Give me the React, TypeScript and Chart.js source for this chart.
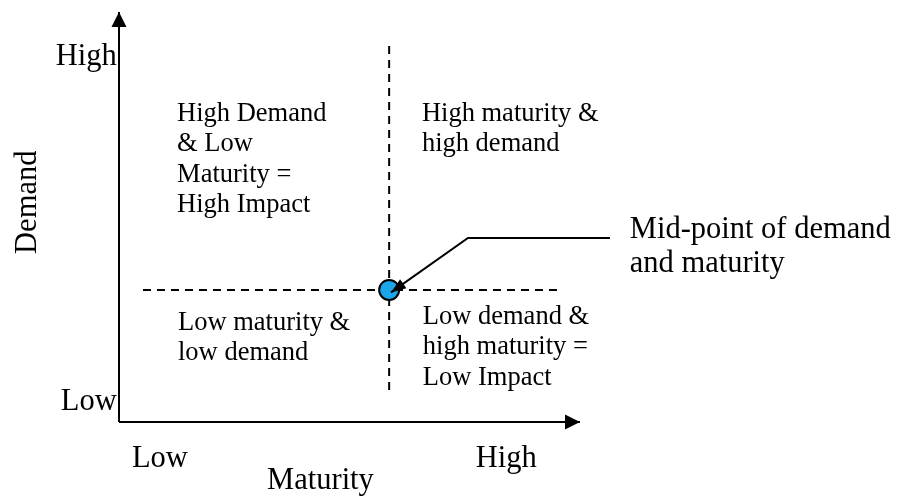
import React, { useEffect, useRef } from "react";
import { Chart, registerables } from "chart.js";

Chart.register(...registerables);

// ---- Data (values on a 0–10 maturity / demand scale) ----
const axisMaturityEnd = 10;
const axisDemandEnd = 10;

const midpointMaturity = 5.86;
const midpointDemand = 3.22;

const dividerMaturityRange = [0.52, 9.57]; // horizontal dashed line extent
const dividerDemandRange = [0.78, 9.27]; // vertical dashed line extent

const calloutPathX = [10.65, 7.57, 5.9];
const calloutPathY = [4.49, 4.49, 3.16];
const calloutText = ["Mid-point of demand", "and maturity"];
const calloutAnchor = [11.08, 4.5];

const quadrantLabels = [
  ["High Demand", "& Low", "Maturity =", "High Impact"],
  ["High maturity &", "high demand"],
  ["Low maturity &", "low demand"],
  ["Low demand &", "high maturity =", "Low Impact"],
];
const quadrantLabelX = [1.26, 6.57, 1.28, 6.59];
const quadrantLabelY = [7.35, 7.35, 2.25, 2.4];

const tickLabels = ["Low", "High"];
const xTickX = [0.28, 7.74];
const xTickY = -1.1;
const yTickX = -0.05;
const yTickY = [0.29, 8.71];

const xAxisTitle = "Maturity";
const yAxisTitle = "Demand";
const xTitleAnchor = [4.37, -1.63];
const yTitleAnchor = [-1.8, 5.36];

// ---- Styles ----
const FONT = "'Liberation Serif', 'Times New Roman', Times, serif";
const INK = "#000000";
const DOT_FILL = "#1aa6e8";

export default function App() {
  const ref = useRef<HTMLCanvasElement>(null);

  useEffect(() => {
    const canvas = ref.current;
    if (!canvas) return;

    const overlay = {
      id: "quadrantOverlay",
      afterDatasetsDraw(chart: any) {
        const { ctx } = chart;
        const xs = chart.scales.x;
        const ys = chart.scales.y;
        const px = (v: number) => xs.getPixelForValue(v);
        const py = (v: number) => ys.getPixelForValue(v);

        // arrowheads
        chart.data.datasets.forEach((ds: any, i: number) => {
          if (!ds.arrowHead) return;
          const meta = chart.getDatasetMeta(i);
          const pts = meta.data;
          const a = pts[pts.length - 2];
          const b = pts[pts.length - 1];
          const ang = Math.atan2(b.y - a.y, b.x - a.x);
          const { len, half } = ds.arrowHead;
          const bx = b.x - Math.cos(ang) * len;
          const by = b.y - Math.sin(ang) * len;
          const nx = -Math.sin(ang) * half;
          const ny = Math.cos(ang) * half;
          ctx.save();
          ctx.fillStyle = INK;
          ctx.beginPath();
          ctx.moveTo(b.x, b.y);
          ctx.lineTo(bx + nx, by + ny);
          ctx.lineTo(bx - nx, by - ny);
          ctx.closePath();
          ctx.fill();
          ctx.restore();
        });

        ctx.save();
        ctx.fillStyle = INK;
        ctx.textBaseline = "alphabetic";

        // quadrant texts
        ctx.font = `26.5px ${FONT}`;
        ctx.textAlign = "left";
        quadrantLabels.forEach((lines, qi) => {
          lines.forEach((t, li) => {
            ctx.fillText(t, px(quadrantLabelX[qi]), py(quadrantLabelY[qi]) + li * 30.6);
          });
        });

        // callout
        ctx.font = `30.5px ${FONT}`;
        calloutText.forEach((t, li) => {
          ctx.fillText(t, px(calloutAnchor[0]), py(calloutAnchor[1]) + li * 34.5);
        });

        // tick labels
        ctx.textAlign = "left";
        tickLabels.forEach((t, i) => {
          ctx.fillText(t, px(xTickX[i]), py(xTickY));
        });
        ctx.textAlign = "right";
        tickLabels.forEach((t, i) => {
          ctx.fillText(t, px(yTickX), py(yTickY[i]));
        });

        // axis titles
        ctx.textAlign = "center";
        ctx.fillText(xAxisTitle, px(xTitleAnchor[0]), py(xTitleAnchor[1]));
        ctx.save();
        ctx.translate(px(yTitleAnchor[0]), py(yTitleAnchor[1]));
        ctx.rotate(-Math.PI / 2);
        ctx.fillText(yAxisTitle, 0, 0);
        ctx.restore();

        ctx.restore();
      },
    };

    const lineBase = {
      showLine: true,
      borderColor: INK,
      borderWidth: 2,
      pointRadius: 0,
      pointHoverRadius: 0,
      clip: false as any,
      fill: false,
    };

    const chart = new Chart(canvas, {
      type: "scatter",
      data: {
        datasets: [
          {
            ...lineBase,
            label: "callout",
            data: calloutPathX.map((x, i) => ({ x, y: calloutPathY[i] })),
            arrowHead: { len: 15, half: 5.5 },
          } as any,
          {
            label: "midpoint",
            data: [{ x: midpointMaturity, y: midpointDemand }],
            showLine: false,
            pointRadius: 10,
            pointHoverRadius: 10,
            pointBackgroundColor: DOT_FILL,
            pointBorderColor: INK,
            pointBorderWidth: 2,
            clip: false as any,
          },
          {
            ...lineBase,
            label: "demand divider",
            borderDash: [8, 6],
            data: [
              { x: dividerMaturityRange[0], y: midpointDemand },
              { x: dividerMaturityRange[1], y: midpointDemand },
            ],
          },
          {
            ...lineBase,
            label: "maturity divider",
            borderDash: [8, 6],
            data: [
              { x: midpointMaturity, y: dividerDemandRange[0] },
              { x: midpointMaturity, y: dividerDemandRange[1] },
            ],
          },
          {
            ...lineBase,
            label: "x axis",
            data: [
              { x: 0, y: 0 },
              { x: axisMaturityEnd, y: 0 },
            ],
            arrowHead: { len: 15, half: 7.5 },
          } as any,
          {
            ...lineBase,
            label: "y axis",
            data: [
              { x: 0, y: 0 },
              { x: 0, y: axisDemandEnd },
            ],
            arrowHead: { len: 15, half: 7.5 },
          } as any,
        ],
      },
      options: {
        animation: false,
        responsive: false,
        devicePixelRatio: 1,
        events: [],
        layout: { padding: { left: 119, right: 326, top: 10, bottom: 74 } },
        scales: {
          x: { type: "linear", min: 0, max: axisMaturityEnd, display: false },
          y: { type: "linear", min: 0, max: axisDemandEnd, display: false },
        },
        plugins: {
          legend: { display: false },
          tooltip: { enabled: false },
        },
      },
      plugins: [overlay],
    });

    return () => chart.destroy();
  }, []);

  return (
    <div style={{ position: "fixed", left: 0, top: 0, width: 906, height: 496, background: "#ffffff" }}>
      <canvas ref={ref} width={906} height={496} style={{ display: "block", width: 906, height: 496 }} />
    </div>
  );
}
